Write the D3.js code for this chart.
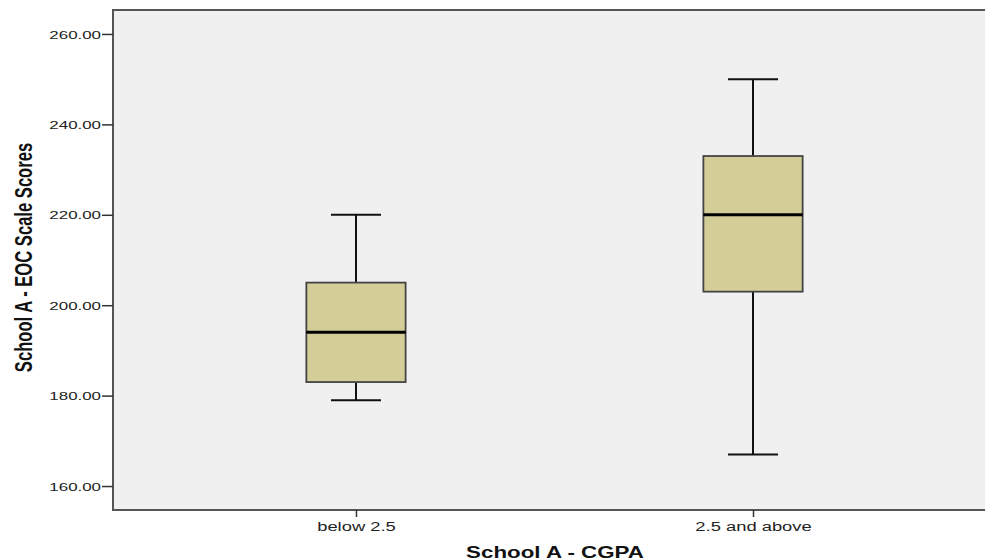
<!DOCTYPE html>
<html>
<head>
<script src="https://d3js.org/d3.v7.min.js"></script>
<style>
  html, body { margin: 0; padding: 0; background: #fff; overflow: hidden; }
  svg { display: block; }
  .tick text { font-family: "Liberation Sans", Arial, sans-serif; fill: #222; }
</style>
</head>
<body>
<script>
"use strict";

// Data
const CATEGORIES = ["below 2.5", "2.5 and above"];
const WHISKER_LOW = [179, 167];
const Q1 = [183, 203];
const MEDIAN = [194, 220];
const Q3 = [205, 233];
const WHISKER_HIGH = [220, 250];
const Y_TICKS = [160, 180, 200, 220, 240, 260];

const WIDTH = 985, HEIGHT = 560;
const M = { left: 113, top: 10, right: -11, bottom: 50 };
const CW = WIDTH - M.left - M.right;
const CH = HEIGHT - M.top - M.bottom;
const STRETCH = 1.47; // the original picture is stretched horizontally

const svg = d3.select("body").append("svg")
  .attr("width", WIDTH).attr("height", HEIGHT);

const x = d3.scalePoint().domain(CATEGORIES).range([0, CW]).padding(0.612);
const y = d3.scaleLinear().domain([154.7, 265.3]).range([CH, 0]);

const g = svg.append("g").attr("transform", `translate(${M.left},${M.top})`);

// plot background
g.append("rect")
  .attr("width", CW).attr("height", CH)
  .attr("fill", "#f0f0f0")
  .attr("stroke", "#555").attr("stroke-width", 2);

// y axis
const yAxis = g.append("g")
  .call(d3.axisLeft(y).tickValues(Y_TICKS).tickFormat(d3.format(".2f")).tickSize(11));
yAxis.select(".domain").remove();
yAxis.selectAll(".tick line").attr("stroke", "#333").attr("stroke-width", 1.5);
yAxis.selectAll(".tick text")
  .attr("x", 0).attr("dy", "0.36em")
  .attr("font-size", 11.5)
  .attr("transform", `translate(-12,0) scale(${STRETCH},1)`);

// x axis
const xAxis = g.append("g").attr("transform", `translate(0,${CH})`)
  .call(d3.axisBottom(x).tickSize(7));
xAxis.select(".domain").remove();
xAxis.selectAll(".tick line").attr("stroke", "#333").attr("stroke-width", 1.5);
xAxis.selectAll(".tick text")
  .attr("y", 0).attr("dy", 0)
  .attr("font-size", 12.5)
  .attr("transform", `translate(0,20.5) scale(${STRETCH},1)`);

// boxes
const boxW = x.step() * 0.25;
const capW = x.step() * 0.126;
const boxes = g.selectAll(".box").data(CATEGORIES).enter().append("g")
  .attr("class", "box")
  .attr("transform", d => `translate(${x(d)},0)`);

boxes.append("line")
  .attr("y1", (d, i) => y(WHISKER_HIGH[i])).attr("y2", (d, i) => y(Q3[i]))
  .attr("stroke", "#111").attr("stroke-width", 2);
boxes.append("line")
  .attr("y1", (d, i) => y(Q1[i])).attr("y2", (d, i) => y(WHISKER_LOW[i]))
  .attr("stroke", "#111").attr("stroke-width", 2);
boxes.append("line")
  .attr("x1", -capW / 2).attr("x2", capW / 2)
  .attr("y1", (d, i) => y(WHISKER_HIGH[i])).attr("y2", (d, i) => y(WHISKER_HIGH[i]))
  .attr("stroke", "#111").attr("stroke-width", 2);
boxes.append("line")
  .attr("x1", -capW / 2).attr("x2", capW / 2)
  .attr("y1", (d, i) => y(WHISKER_LOW[i])).attr("y2", (d, i) => y(WHISKER_LOW[i]))
  .attr("stroke", "#111").attr("stroke-width", 2);
boxes.append("rect")
  .attr("x", -boxW / 2).attr("width", boxW)
  .attr("y", (d, i) => y(Q3[i]))
  .attr("height", (d, i) => y(Q1[i]) - y(Q3[i]))
  .attr("fill", "#d3ce98").attr("stroke", "#444").attr("stroke-width", 1.8);
boxes.append("line")
  .attr("x1", -boxW / 2).attr("x2", boxW / 2)
  .attr("y1", (d, i) => y(MEDIAN[i])).attr("y2", (d, i) => y(MEDIAN[i]))
  .attr("stroke", "#000").attr("stroke-width", 3);

// axis titles
svg.append("text")
  .attr("transform", `translate(32,257.5) rotate(-90) scale(1,${STRETCH})`)
  .attr("text-anchor", "middle")
  .attr("font-family", "'Liberation Sans', Arial, sans-serif")
  .attr("font-weight", "bold").attr("font-size", 16.6).attr("fill", "#111")
  .text("School A - EOC Scale Scores");

svg.append("text")
  .attr("transform", `translate(555,557.5) scale(${STRETCH * 0.95},1)`)
  .attr("text-anchor", "middle")
  .attr("font-family", "'Liberation Sans', Arial, sans-serif")
  .attr("font-weight", "bold").attr("font-size", 16).attr("fill", "#111")
  .text("School A - CGPA");
</script>
</body>
</html>
